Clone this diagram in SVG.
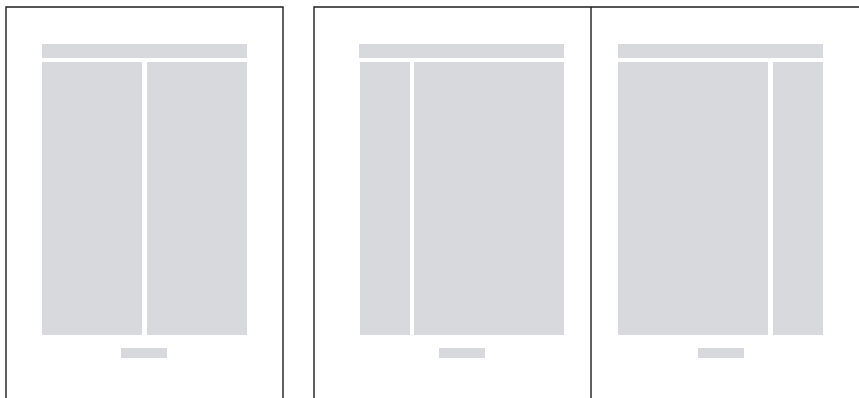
<svg xmlns="http://www.w3.org/2000/svg" width="859" height="398" viewBox="0 0 859 398">
<style>
.b{fill:#d8d9dc}
.e{fill:none;stroke:#1e1e1e;stroke-width:1.4}
</style>
<rect width="859" height="398" fill="#fff"/>
<g id="page1">
<path class="e" d="M6 398V7H283V398"/>
<rect class="b" x="42" y="44" width="205" height="14"/>
<rect class="b" x="42" y="62" width="100" height="273"/>
<rect class="b" x="147" y="62" width="100" height="273"/>
<rect class="b" x="121" y="348" width="46" height="10"/>
</g>
<g id="spread">
<path class="e" d="M314 398V7H859M591 7V398"/>
</g>
<g id="page2">
<rect class="b" x="359" y="44" width="205" height="14"/>
<rect class="b" x="360" y="62" width="50" height="273"/>
<rect class="b" x="414" y="62" width="150" height="273"/>
<rect class="b" x="439" y="348" width="46" height="10"/>
</g>
<g id="page3">
<rect class="b" x="618" y="44" width="205" height="14"/>
<rect class="b" x="618" y="62" width="150" height="273"/>
<rect class="b" x="773" y="62" width="50" height="273"/>
<rect class="b" x="698" y="348" width="46" height="10"/>
</g>
</svg>
